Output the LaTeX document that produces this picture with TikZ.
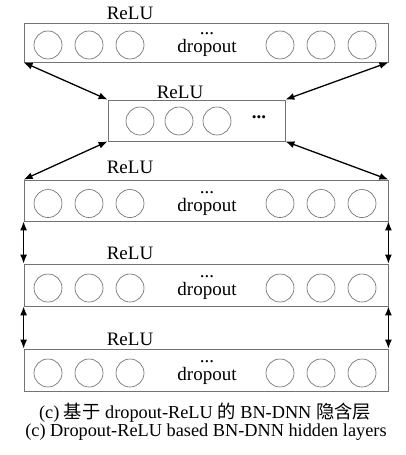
\documentclass[tikz,border=0pt]{standalone}
\usepackage{fontspec}
\setmainfont{Liberation Serif}
\newfontfamily\cjk{Noto Sans CJK SC}
\usetikzlibrary{arrows.meta}
\begin{document}
\begin{tikzpicture}[x=1pt,y=-1pt,
  layerbox/.style={draw=black!55,line width=0.8pt,fill=white,inner sep=0pt},
  neuron/.style={circle,draw=black!60,line width=0.6pt,minimum size=28pt,inner sep=0pt},
  lbl/.style={font=\fontsize{19}{19}\selectfont,inner sep=0pt},
  captext/.style={font=\fontsize{18.3}{18.3}\selectfont,inner sep=0pt},
  link/.style={line width=1.3pt,{Latex[length=9pt,width=7pt]}-{Latex[length=9pt,width=7pt]}}]
\useasboundingbox (0,0) rectangle (405,455);
% boxes
\node[layerbox,minimum width=364pt,minimum height=39pt] (L1) at (206,42.5) {};
\node[layerbox,minimum width=177pt,minimum height=41pt] (M) at (196.5,120.5) {};
\node[layerbox,minimum width=364pt,minimum height=41pt] (L3) at (206,200.5) {};
\node[layerbox,minimum width=364pt,minimum height=42pt] (L4) at (206,285) {};
\node[layerbox,minimum width=364pt,minimum height=42pt] (L5) at (206,370) {};
% neurons full layers
\foreach \b/\y in {1/45,3/203.5,4/288,5/373}{
  \foreach \i/\x in {1/48,2/89,3/130,4/280,5/321,6/362}{
    \node[neuron] (n\b\i) at (\x,\y) {};
  }
}
% neurons middle
\foreach \i/\x in {1/140,2/179,3/217}{
  \node[neuron] (m\i) at (\x,121) {};
}
% labels
\node[lbl] (r1) at (130,13) {ReLU};
\node[lbl] (r2) at (180,92) {ReLU};
\node[lbl] (r3) at (130,167) {ReLU};
\node[lbl] (r4) at (130,253) {ReLU};
\node[lbl] (r5) at (130,339) {ReLU};
\foreach \b/\y in {1/45,3/204,4/288,5/373}{
  \node[lbl] (d\b) at (207,\y-11) {...};
  \node[lbl] (dr\b) at (207,\y+3) {dropout};
}
\node[lbl,font=\fontsize{19}{19}\selectfont\bfseries] (md) at (259,117) {...};
% connectors
\draw[link] (L1.south west) -- (M.north west);
\draw[link] (L1.south east) -- (M.north east);
\draw[link] (M.south west) -- (L3.north west);
\draw[link] (M.south east) -- (L3.north east);
\draw[link] (L3.south west) -- (L4.north west);
\draw[link] (L3.south east) -- (L4.north east);
\draw[link] (L4.south west) -- (L5.north west);
\draw[link] (L4.south east) -- (L5.north east);
% captions
\node[captext] (c1) at (205,413) {(c) {\cjk 基于} dropout-ReLU {\cjk 的} BN-DNN {\cjk 隐含层}};
\node[captext] (c2) at (206,432) {(c) Dropout-ReLU based BN-DNN hidden layers};
\end{tikzpicture}
\end{document}
